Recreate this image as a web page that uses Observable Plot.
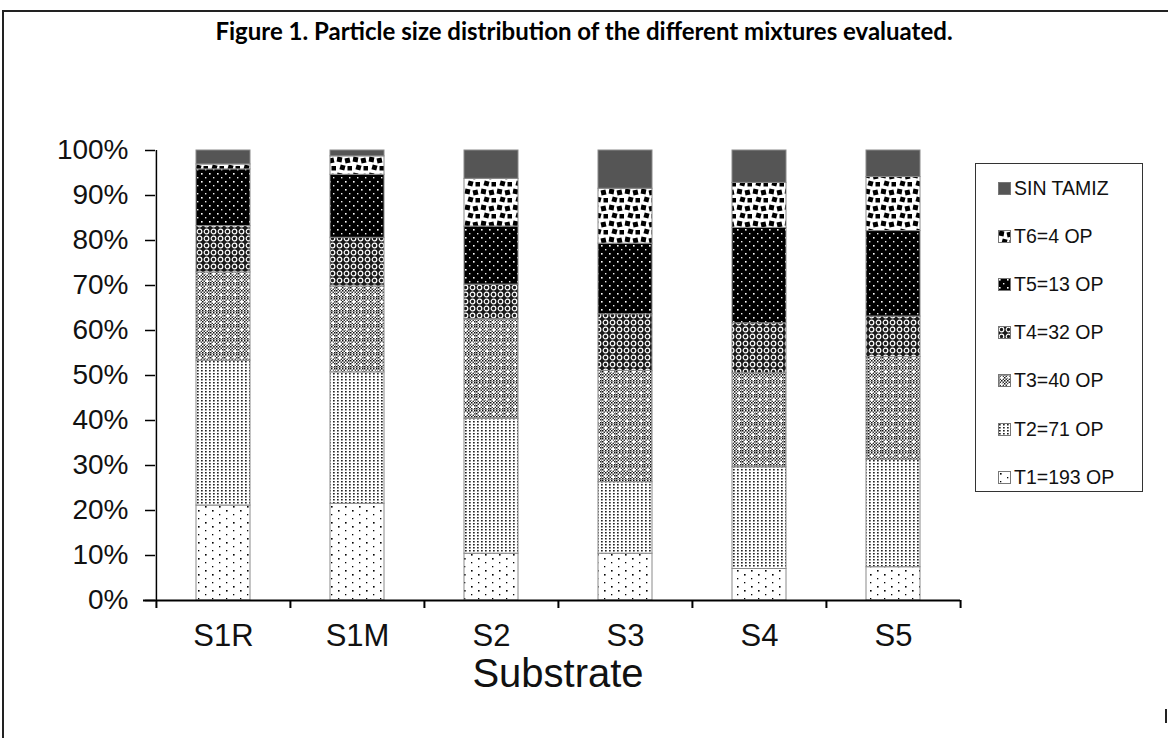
<!DOCTYPE html>
<html><head><meta charset="utf-8">
<script src="https://cdn.jsdelivr.net/npm/d3@7"></script>
<script src="https://cdn.jsdelivr.net/npm/@observablehq/plot@0.6"></script>
<style>
body{margin:0;background:#fff;}
#wrap{position:relative;width:1168px;height:738px;overflow:hidden;font-family:"Liberation Sans",Arial,sans-serif;background:#fff;}
.fl{position:absolute;background:#222;}
#title{position:absolute;top:17px;left:0;width:1168px;text-align:center;font:bold 24px Lato,"Open Sans",sans-serif;line-height:28px;color:#000;}
#chart{position:absolute;left:0;top:60px;}
#legend{position:absolute;left:975px;top:163px;width:168px;height:329px;border:1.5px solid #333;box-sizing:border-box;background:#fff;}
.li{position:absolute;left:22px;height:20px;display:flex;align-items:center;font-size:19.5px;color:#111;white-space:nowrap;}
.li svg{margin-right:3px;}
</style></head>
<body>
<svg width="0" height="0" style="position:absolute">
<defs>
  <pattern id="pT1" patternUnits="userSpaceOnUse" width="14" height="16">
    <rect width="14" height="16" fill="#fff"/>
    <rect x="2" y="2" width="1.6" height="1.6" fill="#000"/>
    <rect x="9" y="6" width="1.3" height="1.3" fill="#000"/>
    <rect x="2" y="10" width="1.3" height="1.3" fill="#000"/>
    <rect x="9" y="14" width="1.6" height="1.6" fill="#000"/>
  </pattern>
  <pattern id="pT2" patternUnits="userSpaceOnUse" width="4" height="3">
    <rect width="4" height="3" fill="#fff"/>
    <rect x="1" y="1" width="1.7" height="1.5" fill="#222"/>
  </pattern>
  <pattern id="pChk" patternUnits="userSpaceOnUse" width="3" height="3">
    <rect width="3" height="3" fill="#fff"/>
    <rect x="0" y="0" width="1.5" height="1.5" fill="#111"/>
    <rect x="1.5" y="1.5" width="1.5" height="1.5" fill="#333"/>
  </pattern>
  <pattern id="pT3" patternUnits="userSpaceOnUse" width="14" height="14">
    <rect width="14" height="14" fill="url(#pChk)"/>
    <rect x="2.5" y="2.5" width="2.6" height="2.6" fill="#fff"/>
    <rect x="9.5" y="9.5" width="2.6" height="2.6" fill="#fff"/>
    <rect x="2" y="9.8" width="3.4" height="1" fill="#fff"/>
    <rect x="3.2" y="8.6" width="1" height="3.4" fill="#fff"/>
    <rect x="9" y="2.8" width="3.4" height="1" fill="#fff"/>
    <rect x="10.2" y="1.6" width="1" height="3.4" fill="#fff"/>
  </pattern>
  <pattern id="pT4" patternUnits="userSpaceOnUse" width="7" height="7">
    <rect width="7" height="7" fill="#1a1a1a"/>
    <circle cx="3.5" cy="3.5" r="2.3" fill="none" stroke="#fff" stroke-width="1.2"/>
  </pattern>
  <pattern id="pT5" patternUnits="userSpaceOnUse" width="8" height="8">
    <rect width="8" height="8" fill="#000"/>
    <rect x="1" y="1" width="1.6" height="1.6" fill="#fff"/>
    <rect x="5" y="5" width="1.4" height="1.4" fill="#eee"/>
  </pattern>
  <pattern id="pT6" patternUnits="userSpaceOnUse" width="16" height="16">
    <rect width="16" height="16" fill="#fff"/>
    <rect x="1" y="1" width="5" height="5" fill="#000" transform="rotate(10 3.5 3.5)"/>
    <rect x="9" y="2" width="5" height="5" fill="#000" transform="rotate(-12 11.5 4.5)"/>
    <rect x="4" y="9" width="5" height="5" fill="#000" transform="rotate(15 6.5 11.5)"/>
    <rect x="11.5" y="10" width="4.5" height="4.5" fill="#000"/>
  </pattern>
</defs>
</svg>
<div id="wrap">
  <div class="fl" style="left:2px;top:10px;width:1.5px;height:728px"></div>
  <div class="fl" style="left:2px;top:10px;width:1166px;height:1.5px"></div>
  <div class="fl" style="left:1165px;top:709px;width:1.5px;height:14px"></div>
  <div id="title">Figure 1. Particle size distribution of the different mixtures evaluated.</div>
  <div id="chart"></div>
  <div id="legend"></div>
</div>
<script>
const substrates = ["S1R", "S1M", "S2", "S3", "S4", "S5"];
const seriesNames = ["T1=193 OP", "T2=71 OP", "T3=40 OP", "T4=32 OP", "T5=13 OP", "T6=4 OP", "SIN TAMIZ"];
const seriesFill = ["url(#pT1)", "url(#pT2)", "url(#pT3)", "url(#pT4)", "url(#pT5)", "url(#pT6)", "#555555"];
// percentage of each size class per substrate (bottom to top)
const T1 = [21.1, 21.5, 10.4, 10.4, 7.0, 7.4];
const T2 = [32.2, 29.2, 30.0, 15.9, 22.6, 23.9];
const T3 = [19.6, 19.1, 22.1, 24.7, 20.9, 22.8];
const T4 = [10.3, 10.8, 7.7, 12.6, 11.1, 9.0];
const T5 = [12.6, 14.0, 12.9, 15.7, 21.2, 19.0];
const T6 = [1.1, 4.1, 10.6, 12.2, 10.0, 12.0];
const SIN = [3.1, 1.3, 6.3, 8.5, 7.2, 5.9];
const yTicks = [0, 10, 20, 30, 40, 50, 60, 70, 80, 90, 100];

const seriesValues = [T1, T2, T3, T4, T5, T6, SIN];
const data = [];
substrates.forEach((s, i) => {
  seriesValues.forEach((vals, k) => {
    data.push({substrate: s, series: seriesNames[k], value: vals[i], fill: seriesFill[k]});
  });
});

const W = 1168, H = 678, mL = 155, mR = 208, mT = 90, mB = 138;
const pInner = 0.6, pOuter = 0.3;
const step = (W - mL - mR) / (substrates.length - pInner + 2 * pOuter);

const chart = Plot.plot({
  width: W, height: H,
  marginTop: mT, marginBottom: mB, marginLeft: mL, marginRight: mR,
  style: {fontFamily: '"Liberation Sans", Arial, sans-serif', background: "transparent", overflow: "visible", color: "#000"},
  x: {domain: substrates, paddingInner: pInner, paddingOuter: pOuter},
  y: {domain: [0, 100]},
  color: {type: "identity"},
  marks: [
    Plot.barY(data, Plot.stackY({x: "substrate", y: "value", fill: "fill", stroke: "#8a8a8a", strokeWidth: 1})),
    Plot.axisY({ticks: yTicks, tickFormat: d => d + "%", tickSize: 10, tickPadding: 17, fontSize: 28, strokeWidth: 1.5, label: null, fill: "#111"}),
    Plot.axisX({tickSize: 0, tickPadding: 23, fontSize: 31, label: null, fill: "#111"}),
    Plot.axisX({tickSize: 8, tickFormat: () => "", dx: -step / 2, strokeWidth: 2, label: null}),
    Plot.axisX({ticks: [substrates[substrates.length - 1]], tickSize: 8, tickFormat: () => "", dx: step / 2, strokeWidth: 2, label: null}),
    Plot.ruleY([0], {stroke: "#000", strokeWidth: 2, insetLeft: -12}),
    Plot.ruleX([substrates[0]], {y1: 0, y2: 100, dx: -step / 2, stroke: "#000", strokeWidth: 1.5}),
    Plot.text(["Substrate"], {frameAnchor: "bottom", dy: 74, fontSize: 40, lineAnchor: "middle", fill: "#111"})
  ]
});
document.getElementById("chart").appendChild(chart);

const legend = document.getElementById("legend");
const order = seriesNames.map((n, k) => k).reverse();
order.forEach((k, j) => {
  const div = document.createElement("div");
  div.className = "li";
  div.style.top = (14 + j * 48.2) + "px";
  div.innerHTML = `<svg width="13" height="13"><rect x="0.5" y="0.5" width="12" height="12" fill="${seriesFill[k]}" stroke="#777" stroke-width="1"/></svg><span>${seriesNames[k]}</span>`;
  legend.appendChild(div);
});
</script>
</body></html>
